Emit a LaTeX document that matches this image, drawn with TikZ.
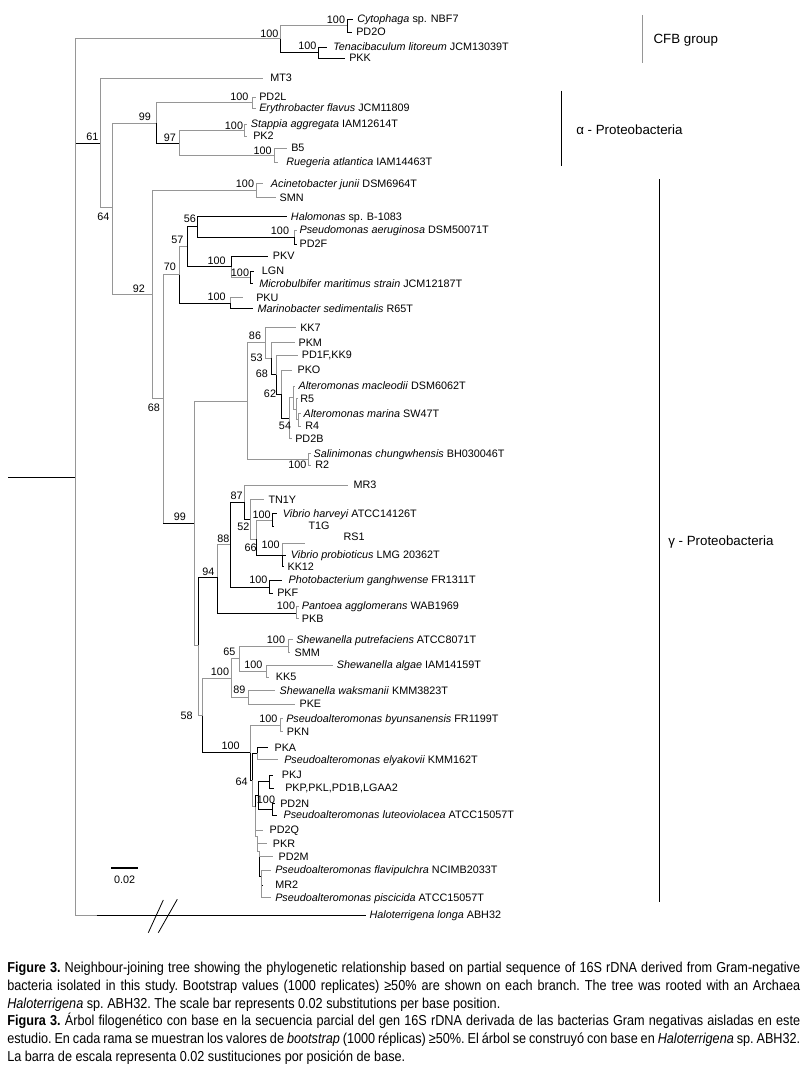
\documentclass[tikz,border=0pt]{standalone}
\usepackage{fontspec}
\setmainfont{Liberation Sans}
\newfontfamily\capfont[FakeStretch=0.88]{Liberation Sans}
\definecolor{lgray}{RGB}{150,150,150}
\newcommand{\tnd}[5]{\coordinate (#2) at (#3,#4); \draw[#5] (#1) |- (#2);}
\newcommand{\tlf}[7]{\coordinate (#2) at (#3,#4); \draw[#6] (#1) |- (#2); \node[lf] (t#2) at (#5,#4) {#7};}
\newcommand{\bsv}[4]{\node[bs] (#1) at (#2,#3) {#4};}
\tikzset{
 gb/.style={draw=lgray, line width=0.75pt},
 bb/.style={draw=black, line width=0.75pt},
 lf/.style={anchor=base west, inner sep=0pt, font=\fontsize{8.1}{9}\selectfont, yshift=-2.9pt},
 bs/.style={inner sep=0pt, font=\fontsize{8.1}{9}\selectfont},
 grp/.style={anchor=base west, inner sep=0pt, font=\fontsize{10}{12}\selectfont, yshift=-3.6pt},
 captext/.style={anchor=base west, inner sep=0pt, font=\capfont\fontsize{10.8}{13}\selectfont\frenchspacing},
}
\begin{document}
\begin{tikzpicture}[x=0.75pt,y=-0.75pt]
\useasboundingbox (0,0) rectangle (807,1072);
\fill[white] (0,0) rectangle (807,1072);
% root
\coordinate (R) at (75,477);
\coordinate (R0) at (8,477);
\draw[bb] (R0) -- (R);
\coordinate (N61) at (100.7,143);
\draw[bb] (R |- N61) -- (N61);
% CFB
\tnd{R}{C}{280}{38.5}{gb}
\tnd{C}{C1}{347}{25.5}{gb}
\tlf{C1}{lCyto}{353}{19}{357}{bb}{\textit{Cytophaga} sp. NBF7}
\tlf{C1}{lPDO}{352}{32}{356}{bb}{PD2O}
\tnd{C}{C2}{318}{52.5}{bb}
\tlf{C2}{lTen}{327}{47}{333}{bb}{\textit{Tenacibaculum litoreum} JCM13039T}
\tlf{C2}{lPKK}{345}{58}{349}{bb}{PKK}
% alpha
\tlf{N61}{lMT3}{263}{78}{270}{gb}{MT3}
\tnd{N61}{N64}{112.7}{207}{gb}
\tnd{N64}{Na99}{156}{123}{gb}
\tnd{Na99}{NEry}{252.7}{102.7}{gb}
\tlf{NEry}{lPDL}{256}{97}{259}{gb}{PD2L}
\tlf{NEry}{lEry}{256}{108}{259}{gb}{\textit{Erythrobacter flavus} JCM11809}
\tnd{Na99}{N97}{179}{143.3}{bb}
\tnd{N97}{NSt}{244.3}{130}{gb}
\tlf{NSt}{lSt}{247}{124}{250.7}{gb}{\textit{Stappia aggregata} IAM12614T}
\tlf{NSt}{lPK2}{247}{136}{253}{gb}{PK2}
\tnd{N97}{NB5}{274.3}{155.3}{gb}
\tlf{NB5}{lB5}{286.7}{148}{291}{gb}{B5}
\tlf{NB5}{lRue}{278.3}{162}{286}{gb}{\textit{Ruegeria atlantica} IAM14463T}
% gamma
\tnd{N64}{N92}{152.7}{294}{gb}
\tnd{N92}{NAci}{256}{190.3}{gb}
\tlf{NAci}{lAci}{262.7}{183.3}{270.7}{gb}{\textit{Acinetobacter junii} DSM6964T}
\tlf{NAci}{lSMN}{276}{197.3}{279.3}{gb}{SMN}
\tnd{N92}{N68}{163.3}{398.4}{gb}
\tnd{N68}{N70}{179}{274.7}{gb}
\tnd{N70}{N57}{187.3}{246.3}{gb}
\tnd{N57}{N56}{197.7}{226.5}{bb}
\tlf{N56}{lHal}{286.7}{216.5}{290.7}{bb}{\textit{Halomonas} sp. B-1083}
\tnd{N56}{NPs}{294}{237}{bb}
\tlf{NPs}{lPs}{296.5}{230}{299.3}{gb}{\textit{Pseudomonas aeruginosa} DSM50071T}
\tlf{NPs}{lPDF}{296.5}{244}{299.3}{bb}{PD2F}
\tnd{N57}{NPKV}{231}{266.5}{bb}
\tlf{NPKV}{lPKV}{268.3}{256}{272.7}{bb}{PKV}
\tnd{NPKV}{NLGN}{250}{277.2}{gb}
\tlf{NLGN}{lLGN}{254}{271}{261.7}{bb}{LGN}
\tlf{NLGN}{lMic}{252.7}{283.3}{259}{bb}{\textit{Microbulbifer maritimus strain} JCM12187T}
\tnd{N70}{NPKU}{230.3}{303}{bb}
\tlf{NPKU}{lPKU}{243.3}{297.5}{256}{gb}{PKU}
\tlf{NPKU}{lMar}{252.7}{308.5}{257.3}{bb}{\textit{Marinobacter sedimentalis} R65T}
% Alteromonas
\tnd{N68}{N99}{194.3}{523}{gb}
\draw[bb] (N68 |- N99) -- (N99);
\tnd{N99}{NAlt}{247}{401}{gb}
\tnd{NAlt}{N86}{265}{342.9}{gb}
\tlf{N86}{lKK7}{295.5}{327.3}{300}{gb}{KK7}
\tnd{N86}{N53}{271.7}{358.4}{gb}
\tlf{N53}{lPKM}{295}{342.3}{298.3}{gb}{PKM}
\tnd{N53}{N68b}{276.7}{374.5}{bb}
\tlf{N68b}{lPD1F}{297.5}{355}{301.7}{gb}{PD1F,KK9}
\tnd{N68b}{N62}{281.7}{394}{bb}
\tlf{N62}{lPKO}{291.7}{370}{297.3}{gb}{PKO}
\tnd{N62}{N54}{289.3}{418}{bb}
\tnd{N54}{Na}{293.3}{397.5}{gb}
\tlf{Na}{lMac}{295}{386}{298.3}{gb}{\textit{Alteromonas macleodii} DSM6062T}
\tnd{Na}{Nb}{296}{409}{gb}
\tlf{Nb}{lR5}{298}{398.3}{300}{gb}{R5}
\tnd{Nb}{Nc}{298.3}{419.7}{gb}
\tlf{Nc}{lMarina}{301}{413.3}{303.3}{gb}{\textit{Alteromonas marina} SW47T}
\tlf{Nc}{lR4}{301}{426}{305}{gb}{R4}
\tlf{N54}{lPD2B}{291.5}{438.3}{295}{gb}{PD2B}
\tnd{NAlt}{NSal}{308.3}{459}{gb}
\tlf{NSal}{lSal}{311}{453.3}{313.3}{gb}{\textit{Salinimonas chungwhensis} BH030046T}
\tlf{NSal}{lR2}{311}{465}{315}{gb}{R2}
% Vibrio and relatives
\tnd{N99}{NX}{198.3}{645}{gb}
\tnd{NX}{N94}{217.3}{577}{bb}
\tnd{N94}{N88}{230.7}{544.5}{gb}
\tnd{N88}{N87}{244}{502}{bb}
\tlf{N87}{lMR3}{348.3}{485}{353.3}{gb}{MR3}
\tnd{N87}{N52}{250}{519}{bb}
\tlf{N52}{lTN1Y}{264}{499.3}{268.3}{gb}{TN1Y}
\tnd{N52}{N66}{256.7}{539}{gb}
\tnd{N66}{NHar}{272.7}{520}{gb}
\tlf{NHar}{lHar}{276.7}{513.3}{282.7}{bb}{\textit{Vibrio harveyi} ATCC14126T}
\coordinate (lT1G) at (273.2,526.7);
\draw[bb] (NHar) |- (lT1G);
\node[lf] (tT1G) at (308.3,526) {T1G};
\tnd{N66}{NPro}{282.7}{555}{bb}
\coordinate (lRS1) at (305,543);
\draw[gb] (NPro) |- (lRS1);
\node[lf] (tRS1) at (343.3,536.7) {RS1};
\tlf{NPro}{lPro}{286}{555}{290.7}{bb}{\textit{Vibrio probioticus} LMG 20362T}
\tlf{NPro}{lKK12}{283.5}{566.7}{287.3}{bb}{KK12}
\tnd{N88}{NPho}{269.3}{587}{bb}
\tlf{NPho}{lPho}{281.7}{580}{288.3}{bb}{\textit{Photobacterium ganghwense} FR1311T}
\tlf{NPho}{lPKF}{273}{593}{277}{bb}{PKF}
\tnd{N94}{NPan}{296}{613}{bb}
\tlf{NPan}{lPan}{298.5}{606}{301.7}{gb}{\textit{Pantoea agglomerans} WAB1969}
\tlf{NPan}{lPKB}{298.5}{618.3}{301.7}{gb}{PKB}
% Shewanella
\tnd{NX}{N58}{202.7}{715.5}{gb}
\tnd{N58}{NSh}{231.7}{678}{gb}
\tnd{NSh}{N65}{239.3}{658.3}{gb}
\tnd{N65}{NPut}{288.3}{646}{gb}
\tlf{NPut}{lPut}{292.7}{639.3}{296}{gb}{\textit{Shewanella putrefaciens} ATCC8071T}
\tlf{NPut}{lSMM}{290}{652.7}{294.3}{gb}{SMM}
\tnd{N65}{NAlg}{266}{671}{gb}
\tlf{NAlg}{lAlg}{333.3}{665}{336.7}{gb}{\textit{Shewanella algae} IAM14159T}
\tlf{NAlg}{lKK5}{269.3}{677}{275.7}{gb}{KK5}
\tnd{NSh}{N89}{248.3}{697.3}{gb}
\tlf{N89}{lWak}{275}{690.7}{279.3}{gb}{\textit{Shewanella waksmanii} KMM3823T}
\tlf{N89}{lPKE}{295}{704}{299.3}{gb}{PKE}
% Pseudoalteromonas
\tnd{N58}{NPa}{250}{752.7}{bb}
\tnd{NPa}{NByun}{280}{725}{gb}
\tlf{NByun}{lByun}{283}{718.3}{286}{gb}{\textit{Pseudoalteromonas byunsanensis} FR1199T}
\tlf{NByun}{lPKN}{283}{731.7}{286.7}{gb}{PKN}
\tnd{NPa}{N64b}{252.7}{780}{bb}
\tnd{N64b}{NPKA}{257.3}{753.3}{bb}
\tlf{NPKA}{lPKA}{268.3}{747.3}{274.3}{bb}{PKA}
\tlf{NPKA}{lEly}{278.3}{759.3}{284}{gb}{\textit{Pseudoalteromonas elyakovii} KMM162T}
\tnd{N64b}{NR}{255}{806.7}{gb}
\tnd{NR}{NJN}{258.3}{795.3}{bb}
\tnd{NJN}{NPKJ}{269.3}{781.5}{bb}
\tlf{NPKJ}{lPKJ}{272.7}{775}{281.7}{bb}{PKJ}
\tlf{NPKJ}{lPKP}{274}{788}{285}{bb}{PKP,PKL,PD1B,LGAA2}
\tnd{NJN}{NPD}{272.7}{809.2}{bb}
\tlf{NPD}{lPD2N}{274.5}{803.3}{280}{bb}{PD2N}
\tlf{NPD}{lLut}{276.7}{815}{283.3}{bb}{\textit{Pseudoalteromonas luteoviolacea} ATCC15057T}
\tnd{NR}{NL1}{257}{836}{gb}
\tlf{NR}{lPDQ}{263}{830}{269.3}{gb}{PD2Q}
\tnd{NL1}{NL2}{259.5}{851}{gb}
\tlf{NL1}{lPKR}{267}{843.3}{272.7}{gb}{PKR}
\tnd{NL2}{NL3}{261.5}{876}{bb}
\tlf{NL2}{lPDM}{273}{856.7}{278.3}{gb}{PD2M}
\tlf{NL3}{lFla}{271}{870}{275}{gb}{\textit{Pseudoalteromonas flavipulchra} NCIMB2033T}
\tlf{NL3}{lMR2}{262.5}{885}{275}{bb}{MR2}
\tlf{NL3}{lPis}{271}{897.7}{275}{gb}{\textit{Pseudoalteromonas piscicida} ATCC15057T}
% outgroup
\coordinate (hg1) at (96.7,915);
\draw[gb] (R) |- (hg1);
\coordinate (lHalo) at (366,915);
\draw[bb] (hg1) -- (lHalo);
\node[lf] (tHalo) at (369.3,915) {\textit{Haloterrigena longa} ABH32};
\coordinate (s1a) at (148.3,932.7); \coordinate (s1b) at (163.3,900);
\coordinate (s2a) at (158.3,932.7); \coordinate (s2b) at (177.3,899.3);
\draw[black, line width=0.6pt] (s1a) -- (s1b);
\draw[black, line width=0.6pt] (s2a) -- (s2b);
% bootstrap values
\bsv{b1}{269.3}{33.3}{100}
\bsv{b2}{336}{19.3}{100}
\bsv{b3}{307.3}{45.7}{100}
\bsv{b4}{92.3}{136.7}{61}
\bsv{b5}{145}{116.7}{99}
\bsv{b6}{170}{137.3}{97}
\bsv{b7}{239.3}{96.7}{100}
\bsv{b8}{234}{126}{100}
\bsv{b9}{262.7}{150.7}{100}
\bsv{b10}{103.3}{216.7}{64}
\bsv{b11}{139}{288.3}{92}
\bsv{b12}{245}{183.3}{100}
\bsv{b13}{190}{218.3}{56}
\bsv{b14}{280}{230.7}{100}
\bsv{b15}{177.3}{240}{57}
\bsv{b16}{216.7}{261}{100}
\bsv{b17}{240}{272.3}{100}
\bsv{b18}{170}{266.7}{70}
\bsv{b19}{216.7}{296.7}{100}
\bsv{b20}{255}{336}{86}
\bsv{b21}{256.7}{357.3}{53}
\bsv{b22}{262}{373.3}{68}
\bsv{b23}{270}{393.3}{62}
\bsv{b24}{285}{426}{54}
\bsv{b25}{297.3}{465}{100}
\bsv{b26}{154}{407.3}{68}
\bsv{b27}{180}{516.7}{99}
\bsv{b28}{236.7}{496}{87}
\bsv{b29}{261.7}{515}{100}
\bsv{b30}{243.3}{526.7}{52}
\bsv{b31}{223.3}{538.3}{88}
\bsv{b32}{250.7}{547.3}{66}
\bsv{b33}{270.7}{545}{100}
\bsv{b34}{208.3}{571.7}{94}
\bsv{b35}{258.3}{580}{100}
\bsv{b36}{286}{606}{100}
\bsv{b37}{229.3}{651.7}{65}
\bsv{b38}{276}{639.3}{100}
\bsv{b39}{220}{671.7}{100}
\bsv{b40}{253.3}{665}{100}
\bsv{b41}{239.3}{690}{89}
\bsv{b42}{186.7}{716}{58}
\bsv{b43}{268.3}{718.3}{100}
\bsv{b44}{230.7}{746}{100}
\bsv{b45}{241.7}{781.7}{64}
\bsv{b46}{266}{799.3}{100}
% scale bar
\coordinate (sb1) at (111,868.3); \coordinate (sb2) at (138.3,868.3);
\draw[black, line width=1.5pt] (sb1) -- (sb2);
\node[bs] (sbl) at (124.7,879.5) {0.02};
% group brackets
\coordinate (g1a) at (642.3,15); \coordinate (g1b) at (642.3,63.3);
\draw[gb] (g1a) -- (g1b);
\node[grp] (g1t) at (653.3,38.3) {CFB group};
\coordinate (g2a) at (561.7,90.7); \coordinate (g2b) at (561.7,165.7);
\draw[bb] (g2a) -- (g2b);
\node[grp] (g2t) at (576,129.3) {α - Proteobacteria};
\coordinate (g3a) at (659.3,179); \coordinate (g3b) at (659.3,902);
\draw[bb] (g3a) -- (g3b);
\node[grp] (g3t) at (668,541) {γ - Proteobacteria};
% caption
\node[captext] (c1) at (7,972.5) {\makebox[594.75pt][s]{\textbf{Figure 3.} Neighbour-joining tree showing the phylogenetic relationship based on partial sequence of 16S rDNA derived from Gram-negative}};
\node[captext] (c2) at (7,990.5) {\makebox[594.75pt][s]{bacteria isolated in this study. Bootstrap values (1000 replicates) ≥50\% are shown on each branch. The tree was rooted with an Archaea}};
\node[captext] (c3) at (7,1008.5) {\textit{Haloterrigena} sp. ABH32. The scale bar represents 0.02 substitutions per base position.};
\node[captext] (c4) at (7,1025.5) {\makebox[594.75pt][s]{\textbf{Figura 3.} Árbol filogenético con base en la secuencia parcial del gen 16S rDNA derivada de las bacterias Gram negativas aisladas en este}};
\node[captext] (c5) at (7,1043.5) {\makebox[594.75pt][s]{estudio. En cada rama se muestran los valores de \textit{bootstrap} (1000 réplicas) ≥50\%. El árbol se construyó con base en \textit{Haloterrigena} sp. ABH32.}};
\node[captext] (c6) at (7,1061.5) {La barra de escala representa 0.02 sustituciones por posición de base.};
\end{tikzpicture}
\end{document}
